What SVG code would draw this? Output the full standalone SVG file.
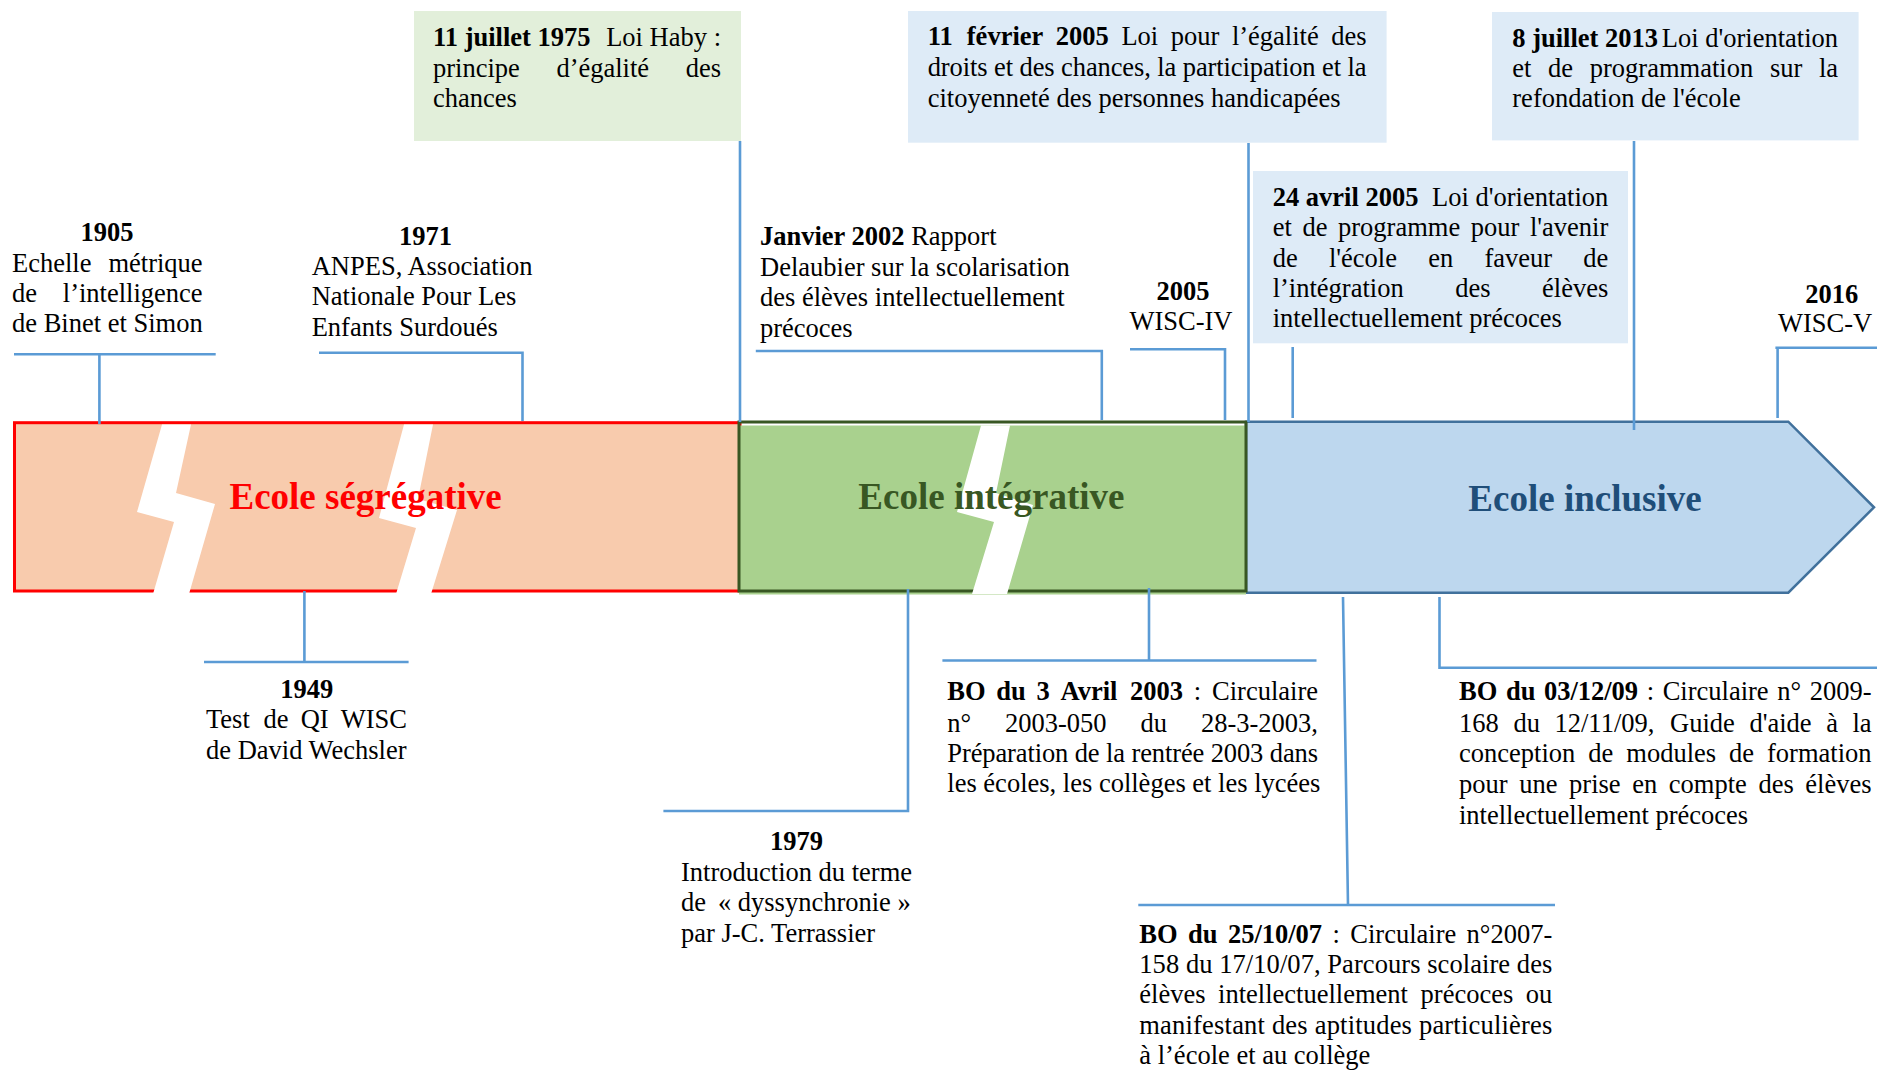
<svg xmlns="http://www.w3.org/2000/svg" width="1877" height="1071" viewBox="0 0 1877 1071">
<defs>
<style>
.t{font-family:"Liberation Serif","Times New Roman",serif;font-size:26.5px;fill:#000}
.b{font-weight:bold}
.c{text-anchor:middle}
.e{text-anchor:end}
.band{font-family:"Liberation Serif","Times New Roman",serif;font-size:37px;font-weight:bold;text-anchor:middle}
.conn{stroke:#5b9bd5;stroke-width:2.6;fill:none}
.bolt{fill:#ffffff}
.gbox{fill:#e2efda}
.bbox{fill:#deebf7}
</style>
</defs>
<rect width="1877" height="1071" fill="#ffffff"/>

<!-- timeline bands -->
<g id="band-inclusive">
<polygon points="1246,421.7 1788.3,421.7 1874,507.3 1788.3,592.7 1246,592.7" fill="#bdd7ee" stroke="#41719c" stroke-width="2.5"/>
<text class="band" x="1585" y="511" fill="#1f4e79">Ecole inclusive</text>
</g>
<g id="band-segregative">
<rect x="14.5" y="422.7" width="725.5" height="168.3" fill="#f8cbad" stroke="#ff0000" stroke-width="3"/>
<polygon class="bolt" points="162,424.5 191,424.5 176,493 215,504 189,594 153,594 174,522 137,512"/>
<polygon class="bolt" points="404,424.5 433,424.5 418,499 457,510 431,594 396,594 416,528 379,518"/>
<text class="band" x="365.6" y="509" fill="#ff0000">Ecole ségrégative</text>
</g>
<g id="band-integrative">
<rect x="739" y="425.5" width="507" height="169" fill="#a9d18e"/>
<rect x="739" y="422" width="507" height="169" fill="none" stroke="#385723" stroke-width="3"/>
<polygon class="bolt" points="981,425.5 1010,425.5 996,493 1033,505 1007,594 972,594 994,522 957,512"/>
<text class="band" x="991.4" y="509.3" fill="#385723">Ecole intégrative</text>
</g>

<!-- connectors -->
<g id="connectors" class="conn">
<path d="M14 354.3 H215.7 M99.4 354.3 V424"/>
<path d="M319 352.7 H522.5 V421"/>
<path d="M740 141 V422"/>
<path d="M755.8 351 H1101.8 V420"/>
<path d="M1130 349.3 H1225 V420"/>
<path d="M1248.5 143 V422"/>
<path d="M1292.7 347 V418"/>
<path d="M1634 141 V430"/>
<path d="M1775.4 347.7 H1877 M1777.6 347.7 V418"/>
<path d="M304.4 591 V662 M204 662 H408.6"/>
<path d="M908 589 V811 H663.4"/>
<path d="M1149 588 V660.5 M942.4 660.5 H1316.5"/>
<path d="M1343 597 L1348 905 M1138.3 905 H1555"/>
<path d="M1439.5 597 V667.7 H1877"/>
</g>

<!-- events above -->
<g id="e1905">
<text class="t b c" x="107" y="241">1905</text>
<text class="t" x="12" y="272">Echelle</text><text class="t e" x="202.6" y="272">métrique</text>
<text class="t" x="12" y="302">de</text><text class="t e" x="202.6" y="302">l’intelligence</text>
<text class="t" x="12" y="332">de Binet et Simon</text>
</g>
<g id="e1971">
<text class="t b c" x="425.6" y="245">1971</text>
<text class="t" x="311.7" y="275">ANPES, Association</text>
<text class="t" x="311.7" y="305">Nationale Pour Les</text>
<text class="t" x="311.7" y="336">Enfants Surdoués</text>
</g>
<g id="e1975">
<rect class="gbox" x="414" y="11" width="327" height="130"/>
<text class="t b" x="433" y="46">11 juillet 1975</text>
<text class="t e" x="721" y="46">Loi Haby :</text>
<text class="t" y="77"><tspan x="433">principe</tspan><tspan x="556.4">d’égalité</tspan></text>
<text class="t e" x="721" y="77">des</text>
<text class="t" x="433" y="107">chances</text>
</g>
<g id="e2002">
<text class="t" x="760" y="245"><tspan class="b">Janvier 2002</tspan> Rapport</text>
<text class="t" x="760" y="276">Delaubier sur la scolarisation</text>
<text class="t" x="760" y="306">des élèves intellectuellement</text>
<text class="t" x="760" y="337">précoces</text>
</g>
<g id="e2005wisc">
<text class="t b c" x="1183" y="300">2005</text>
<text class="t c" x="1181" y="330">WISC-IV</text>
</g>
<g id="e2005fev">
<rect class="bbox" x="908" y="11" width="478.6" height="131.7"/>
<text class="t b" y="45"><tspan x="927.7">11</tspan><tspan x="966.8">février</tspan><tspan x="1055.8">2005</tspan></text>
<text class="t" y="45"><tspan x="1121.4">Loi</tspan><tspan x="1170.7">pour</tspan><tspan x="1231.9">l’égalité</tspan></text>
<text class="t e" x="1366.5" y="45">des</text>
<text class="t" x="927.7" y="76" textLength="438.8" lengthAdjust="spacing">droits et des chances, la participation et la</text>
<text class="t" x="927.7" y="107">citoyenneté des personnes handicapées</text>
</g>
<g id="e2005avr">
<rect class="bbox" x="1253" y="171" width="375" height="172.3"/>
<text class="t b" x="1272.7" y="206">24 avril 2005</text>
<text class="t e" x="1608.3" y="206">Loi d'orientation</text>
<text class="t" y="236"><tspan x="1272.7">et</tspan><tspan x="1302.4">de</tspan><tspan x="1338">programme</tspan><tspan x="1470.8">pour</tspan></text>
<text class="t e" x="1608.3" y="236">l'avenir</text>
<text class="t" y="266.7"><tspan x="1272.7">de</tspan><tspan x="1328.9">l'école</tspan><tspan x="1428.2">en</tspan><tspan x="1484.4">faveur</tspan></text>
<text class="t e" x="1608.3" y="266.7">de</text>
<text class="t" y="296.7"><tspan x="1272.7">l’intégration</tspan><tspan x="1455.3">des</tspan></text>
<text class="t e" x="1608.3" y="296.7">élèves</text>
<text class="t" x="1272.7" y="327">intellectuellement précoces</text>
</g>
<g id="e2013">
<rect class="bbox" x="1492" y="12" width="366.6" height="128.4"/>
<text class="t b" x="1512.3" y="46.7">8 juillet 2013</text>
<text class="t e" x="1838" y="46.7">Loi d'orientation</text>
<text class="t" y="77"><tspan x="1512.3">et</tspan><tspan x="1548.1">de</tspan><tspan x="1589.8">programmation</tspan><tspan x="1769.9">sur</tspan></text>
<text class="t e" x="1838" y="77">la</text>
<text class="t" x="1512.3" y="107">refondation de l'école</text>
</g>
<g id="e2016">
<text class="t b c" x="1831.7" y="303">2016</text>
<text class="t" x="1778" y="332">WISC-V</text>
</g>

<!-- events below -->
<g id="e1949">
<text class="t b c" x="306.8" y="697.7">1949</text>
<text class="t" y="728.3"><tspan x="206">Test</tspan><tspan x="263.6">de</tspan><tspan x="300.7">QI</tspan></text>
<text class="t e" x="407" y="728.3">WISC</text>
<text class="t" x="206" y="759">de David Wechsler</text>
</g>
<g id="e1979">
<text class="t b c" x="796.4" y="850">1979</text>
<text class="t" x="681" y="880.7">Introduction du terme</text>
<text class="t" y="911"><tspan x="681">de</tspan><tspan x="717.9">« dyssynchronie »</tspan></text>
<text class="t" x="681" y="941.7">par J-C. Terrassier</text>
</g>
<g id="e2003">
<text class="t b" y="700"><tspan x="947.3">BO</tspan><tspan x="996.3">du</tspan><tspan x="1036.5">3</tspan><tspan x="1060.5">Avril</tspan><tspan x="1130.1">2003</tspan></text>
<text class="t" x="1193.8" y="700">:</text>
<text class="t e" x="1318" y="700">Circulaire</text>
<text class="t" y="731.7"><tspan x="947.3">n°</tspan><tspan x="1005">2003-050</tspan><tspan x="1140.5">du</tspan></text>
<text class="t e" x="1318" y="731.7">28-3-2003,</text>
<text class="t" x="947.3" y="762" textLength="370.7" lengthAdjust="spacing">Préparation de la rentrée 2003 dans</text>
<text class="t" x="947.3" y="792">les écoles, les collèges et les lycées</text>
</g>
<g id="e2007">
<text class="t b" y="943.3"><tspan x="1139.3">BO</tspan><tspan x="1188">du</tspan><tspan x="1227.9">25/10/07</tspan></text>
<text class="t" y="943.3"><tspan x="1332.5">:</tspan><tspan x="1350.3">Circulaire</tspan></text>
<text class="t e" x="1552.3" y="943.3">n°2007-</text>
<text class="t" x="1139.3" y="972.7" textLength="413" lengthAdjust="spacing">158 du 17/10/07, Parcours scolaire des</text>
<text class="t" y="1003.3"><tspan x="1139.3">élèves</tspan><tspan x="1218.1">intellectuellement</tspan><tspan x="1420.6">précoces</tspan></text>
<text class="t e" x="1552.3" y="1003.3">ou</text>
<text class="t" x="1139.3" y="1034" textLength="413" lengthAdjust="spacing">manifestant des aptitudes particulières</text>
<text class="t" x="1139.3" y="1064.3">à l’école et au collège</text>
</g>
<g id="e2009">
<text class="t b" y="700"><tspan x="1459">BO</tspan><tspan x="1505.9">du</tspan><tspan x="1543.9">03/12/09</tspan></text>
<text class="t" y="700"><tspan x="1646.7">:</tspan><tspan x="1662.7">Circulaire</tspan><tspan x="1777.3">n°</tspan></text>
<text class="t e" x="1871.5" y="700">2009-</text>
<text class="t" y="731.7"><tspan x="1459">168</tspan><tspan x="1513.4">du</tspan><tspan x="1554.5">12/11/09,</tspan><tspan x="1670">Guide</tspan><tspan x="1749.4">d'aide</tspan><tspan x="1826.2">à</tspan></text>
<text class="t e" x="1871.5" y="731.7">la</text>
<text class="t" y="762.3"><tspan x="1459">conception</tspan><tspan x="1588.3">de</tspan><tspan x="1626.3">modules</tspan><tspan x="1729.1">de</tspan></text>
<text class="t e" x="1871.5" y="762.3">formation</text>
<text class="t" y="793.3"><tspan x="1459">pour</tspan><tspan x="1519.2">une</tspan><tspan x="1569.1">prise</tspan><tspan x="1632.2">en</tspan><tspan x="1668.8">compte</tspan><tspan x="1758.4">des</tspan></text>
<text class="t e" x="1871.5" y="793.3">élèves</text>
<text class="t" x="1459" y="824.3">intellectuellement précoces</text>
</g>
</svg>
